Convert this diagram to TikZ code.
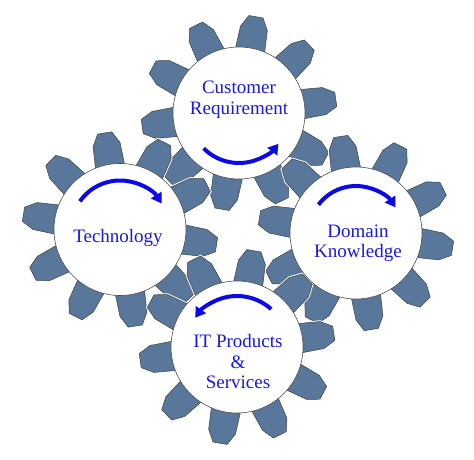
\documentclass[tikz,border=0pt]{standalone}
\usepackage{fontspec}
\setmainfont{Liberation Serif}
\usetikzlibrary{arrows.meta,backgrounds}
\definecolor{toothblue}{RGB}{89,119,154}
\definecolor{inkblue}{RGB}{25,25,225}
\definecolor{turnblue}{RGB}{10,10,230}

\begin{document}
\begin{tikzpicture}[x=1pt,y=1pt,
                    wheel/.style={circle,draw=black!70,fill=white,line width=0.6pt,
                                  minimum size=132pt,inner sep=0pt},
                    tooth/.style={fill=toothblue,draw=black!75,line width=0.5pt,line join=round,
                                  preaction={draw=white,line width=2.5pt}},
                    caption/.style={text=inkblue,align=center,font=\fontsize{19}{20.5}\selectfont},
                    turn/.style={draw=turnblue,line width=4pt,-{Triangle[length=10pt,width=12pt]}}]
    \useasboundingbox (0,0) rectangle (474,459);
    \node[wheel] (cust) at (239,346) {};
    \node[wheel] (tech) at (120,229.5) {};
    \node[wheel] (dom) at (356,226) {};
    \node[wheel] (prod) at (237,112) {};
    \begin{pgfonlayer}{background}
        \foreach \g/\p in {cust/8,tech/27,dom/27,prod/8}
            \foreach \k in {0,...,9} {
                \pgfmathsetmacro\a{\p+36*\k}
                \draw[tooth,shift={(\g.center)}] (\a-14.5:60) -- (\a-9:87) -- (\a-4.2:98)
                    -- (\a+4.2:98) -- (\a+9:87) -- (\a+14.5:60) -- cycle;
            }
    \end{pgfonlayer}
    \node[caption] (custtxt) at ([yshift=13.5pt]cust.center) {Customer\\Requirement};
    \node[caption] (techtxt) at ([xshift=-2pt,yshift=-8pt]tech.center) {Technology};
    \node[caption] (domtxt) at ([xshift=2pt,yshift=-10.5pt]dom.center) {Domain\\Knowledge};
    \node[caption] (prodtxt) at ([xshift=1pt,yshift=-14.5pt]prod.center) {IT Products\\\&\\Services};
    \draw[turn] ([shift={(-135:50pt)}]cust.center) arc[start angle=-135,end angle=-38,radius=50pt];
    \draw[turn] ([shift={(145:49pt)}]tech.center) arc[start angle=145,end angle=32,radius=49pt];
    \draw[turn] ([shift={(143:47pt)}]dom.center) arc[start angle=143,end angle=33,radius=47pt];
    \draw[turn] ([shift={(48:51pt)}]prod.center) arc[start angle=48,end angle=145,radius=51pt];
\end{tikzpicture}
\end{document}
